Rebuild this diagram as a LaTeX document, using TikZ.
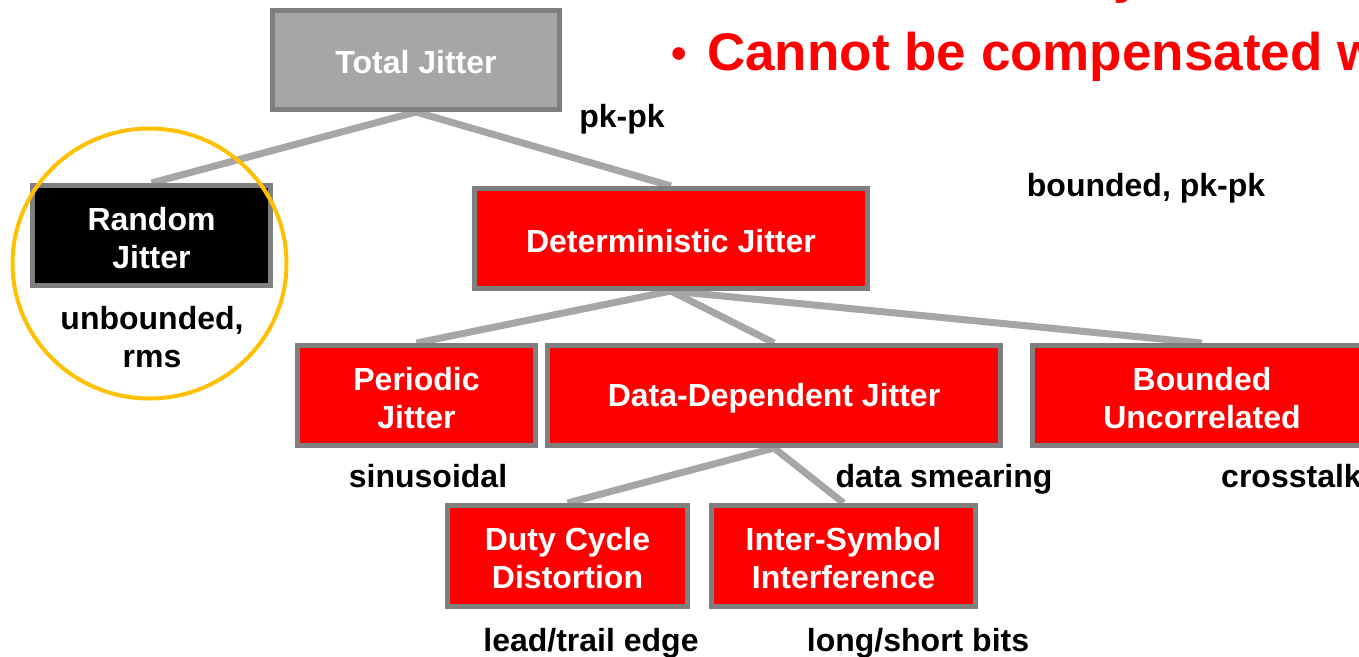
\documentclass[tikz,border=0pt]{standalone}
\usepackage{fontspec}
\setmainfont{Liberation Sans}
\usetikzlibrary{backgrounds}

\definecolor{boxred}{RGB}{255,0,0}
\definecolor{boxgray}{RGB}{166,166,166}
\definecolor{rimgray}{RGB}{127,127,127}
\definecolor{linkgray}{RGB}{166,166,166}
\definecolor{ringgold}{RGB}{255,192,0}

\begin{document}
\begin{tikzpicture}[x=1pt,y=-1pt,
  jbox/.style={draw=rimgray, line width=5pt, fill=boxred, inner sep=0pt,
    minimum height=100},
  boxtext/.style={text=white, font=\fontsize{32}{38}\selectfont\bfseries,
    align=center, inner sep=0pt},
  note/.style={font=\fontsize{32}{38}\selectfont\bfseries, align=center,
    inner sep=0pt, anchor=base},
  link/.style={draw=linkgray, line width=7pt},
  headline/.style={text=boxred, font=\fontsize{53}{62}\selectfont\bfseries,
    inner sep=0pt, anchor=base west}]

\useasboundingbox (0,0) rectangle (1359,656);
\clip (0,0) rectangle (1359,656);

% heading text running off the right edge
\node[headline] (prevline) at (1113,-8) {y};
\node[headline, anchor=base, font=\fontsize{44}{50}\selectfont\bfseries] (bullet) at (679,68) {\textbullet};
\node[headline] (heading) at (707,70) {Cannot be compensated with};

% jitter categories
\node[jbox, fill=boxgray, minimum width=287, minimum height=99] (total) at (416,60) {};
\node[jbox, fill=black, minimum width=238] (rj) at (151.5,235.5) {};
\node[jbox, minimum width=393] (dj) at (671,238.5) {};
\node[jbox, minimum width=238] (pj) at (416.5,395.5) {};
\node[jbox, minimum width=453] (ddj) at (774,395.5) {};
\node[jbox, minimum width=339] (buj) at (1202,395.5) {};
\node[jbox, minimum width=240, minimum height=101] (dcd) at (567.5,556) {};
\node[jbox, minimum width=264, minimum height=101] (isi) at (843.5,556) {};

% category names, set a little below each box centre
\node[boxtext] (totaltext) at ([yshift=-2.5pt]total.center) {Total Jitter};
\node[boxtext] (rjtext) at ([yshift=-2.5pt]rj.center) {Random\\Jitter};
\node[boxtext] (djtext) at ([yshift=-2.5pt]dj.center) {Deterministic Jitter};
\node[boxtext] (pjtext) at ([yshift=-2.5pt]pj.center) {Periodic\\Jitter};
\node[boxtext] (ddjtext) at ([yshift=-2.5pt]ddj.center) {Data-Dependent Jitter};
\node[boxtext] (bujtext) at ([yshift=-2.5pt]buj.center) {Bounded\\Uncorrelated};
\node[boxtext] (dcdtext) at ([yshift=-2.5pt]dcd.center) {Duty Cycle\\Distortion};
\node[boxtext] (isitext) at ([yshift=-2.5pt]isi.center) {Inter-Symbol\\Interference};

% properties of each category
\node[note] (tjnote) at (622,127) {pk-pk};
\node[note] (djnote) at (1146,196) {bounded, pk-pk};
\node[note] (rjnote) at (152,367) {unbounded,\\rms};
\node[note] (pjnote) at (428,487) {sinusoidal};
\node[note] (ddjnote) at (944,487) {data smearing};
\node[note, anchor=base west] (bujnote) at (1221,487) {crosstalk};
\node[note] (dcdnote) at (591,651) {lead/trail edge};
\node[note] (isinote) at (918,651) {long/short bits};

% tree connectors behind the boxes
\begin{pgfonlayer}{background}
  \draw[link] (total.south) -- (rj.north);
  \draw[link] (total.south) -- (dj.north);
  \draw[link] (dj.south) -- (pj.north);
  \draw[link] (dj.south) -- (ddj.north);
  \draw[link] (dj.south) -- (buj.north);
  \draw[link] (ddj.south) -- (dcd.north);
  \draw[link] (ddj.south) -- (isi.north);
\end{pgfonlayer}

% highlight ring around the random jitter box
\draw[ringgold, line width=4pt] (149.5,263.5) ellipse [x radius=137, y radius=135];

\end{tikzpicture}
\end{document}
